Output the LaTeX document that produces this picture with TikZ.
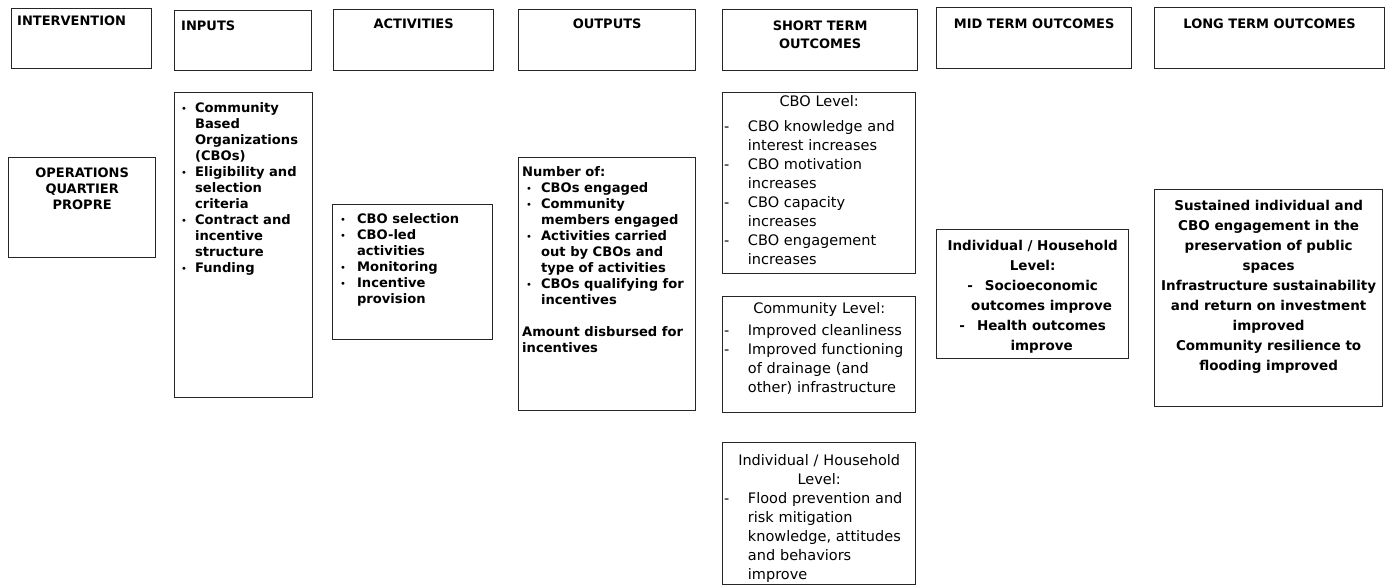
\documentclass[tikz,border=0pt]{standalone}
\usepackage{fontspec}
\setmainfont{DejaVu Sans}
\newcommand{\listdot}{\raisebox{0.6pt}{\fontsize{10}{16}\selectfont\mdseries •}}

\begin{document}
\begin{tikzpicture}[x=1pt,y=-1pt,
  box/.style={draw=black!85,line width=1.3pt,anchor=north west,inner sep=0pt},
  head/.style={font=\fontsize{13}{18}\selectfont\bfseries,inner sep=0pt,align=center},
  lst/.style={font=\fontsize{13.1}{16}\selectfont\bfseries,inner sep=0pt,anchor=north west},
  st/.style={font=\fontsize{14.5}{19}\selectfont,inner sep=0pt,anchor=north west,text width=190pt},
  bold/.style={font=\fontsize{13.5}{20}\selectfont\bfseries,inner sep=0pt,anchor=north,align=center}]
  \useasboundingbox (0,0) rectangle (1390,585);

  % header row
  \node[box,minimum width=140,minimum height=60] (hInterv) at (11,8) {};
  \node[box,minimum width=137,minimum height=60] (hInputs) at (174,10) {};
  \node[box,minimum width=160,minimum height=61] (hActiv) at (333,9) {};
  \node[box,minimum width=177,minimum height=61] (hOutputs) at (518,9) {};
  \node[box,minimum width=195,minimum height=61] (hShort) at (722,9) {};
  \node[box,minimum width=195,minimum height=61] (hMid) at (936,7) {};
  \node[box,minimum width=230,minimum height=61] (hLong) at (1154,7) {};

  \node[head,anchor=north west] (tInterv) at ([xshift=6,yshift=-7.5]hInterv.north west) {INTERVENTION};
  \node[head,anchor=north west] (tInputs) at ([xshift=7,yshift=-10.3]hInputs.north west) {INPUTS};
  \node[head,anchor=north] (tActiv) at ([yshift=-9.3]hActiv.north) {ACTIVITIES};
  \node[head,anchor=north] (tOutputs) at ([yshift=-9.3]hOutputs.north) {OUTPUTS};
  \node[head,anchor=north] (tShort) at ([yshift=-11.3]hShort.north) {SHORT TERM\\OUTCOMES};
  \node[head,anchor=north] (tMid) at ([yshift=-11.3]hMid.north) {MID TERM OUTCOMES};
  \node[head,anchor=north] (tLong) at ([yshift=-11.3]hLong.north) {LONG TERM OUTCOMES};

  % intervention and inputs
  \node[box,minimum width=147,minimum height=100] (bOper) at (8,157) {};
  \node[head,anchor=north,font=\fontsize{13}{16}\selectfont\bfseries] (tOper) at ([yshift=-10.3]bOper.north)
    {OPERATIONS\\QUARTIER\\PROPRE};

  \node[box,minimum width=138,minimum height=305] (bInputs) at (174,92) {};
  \node[lst] (lInputs) at ([xshift=7,yshift=-9.3]bInputs.north west) {%
    \begin{tabular}{@{}l@{\hspace{8pt}}l@{}}
      \listdot & Community\\ & Based\\ & Organizations\\ & (CBOs)\\
      \listdot & Eligibility and\\ & selection\\ & criteria\\
      \listdot & Contract and\\ & incentive\\ & structure\\
      \listdot & Funding
    \end{tabular}};

  % activities and outputs
  \node[box,minimum width=160,minimum height=135] (bActiv) at (332,204) {};
  \node[lst] (lActiv) at ([xshift=8,yshift=-8.3]bActiv.north west) {%
    \begin{tabular}{@{}l@{\hspace{11pt}}l@{}}
      \listdot & CBO selection\\ \listdot & CBO-led\\ & activities\\
      \listdot & Monitoring\\ \listdot & Incentive\\ & provision
    \end{tabular}};

  \node[box,minimum width=177,minimum height=253] (bOutputs) at (518,157) {};
  \node[lst] (lOutputs) at ([xshift=4,yshift=-8.3]bOutputs.north west) {%
    \begin{tabular}{@{}l@{\hspace{9pt}}l@{}}
      \multicolumn{2}{@{}l@{}}{Number of:}\\
      \hspace*{4pt}\listdot & CBOs engaged\\
      \hspace*{4pt}\listdot & Community\\ & members engaged\\
      \hspace*{4pt}\listdot & Activities carried\\ & out by CBOs and\\ & type of activities\\
      \hspace*{4pt}\listdot & CBOs qualifying for\\ & incentives\\[16pt]
      \multicolumn{2}{@{}l@{}}{Amount disbursed for}\\
      \multicolumn{2}{@{}l@{}}{incentives}
    \end{tabular}};

  % short term outcomes
  \node[box,minimum width=193,minimum height=181] (sCbo) at (722,92) {};
  \node[st] (tCbo) at ([xshift=2,yshift=-3]sCbo.north west) {%
    {\centering CBO Level:\par}\vspace{6pt}%
    \begin{tabular}[t]{@{}l@{\hspace{18.5pt}}l@{}}
      - & CBO knowledge and\\ & interest increases\\
      - & CBO motivation\\ & increases\\
      - & CBO capacity\\ & increases\\
      - & CBO engagement\\ & increases
    \end{tabular}};

  \node[box,minimum width=193,minimum height=116] (sComm) at (722,296) {};
  \node[st] (tComm) at ([xshift=2,yshift=-6.7]sComm.north west) {%
    {\centering Community Level:\par}\vspace{3pt}%
    \begin{tabular}[t]{@{}l@{\hspace{18.5pt}}l@{}}
      - & Improved cleanliness\\
      - & Improved functioning\\ & of drainage (and\\ & other) infrastructure
    \end{tabular}};

  \node[box,minimum width=193,minimum height=142] (sIndiv) at (722,442) {};
  \node[st] (tIndiv) at ([xshift=2,yshift=-12.7]sIndiv.north west) {%
    {\centering Individual / Household\\Level:\par}%
    \begin{tabular}[t]{@{}l@{\hspace{18.5pt}}l@{}}
      - & Flood prevention and\\ & risk mitigation\\ & knowledge, attitudes\\
      & and behaviors\\ & improve
    \end{tabular}};

  % mid and long term outcomes
  \node[box,minimum width=192,minimum height=129] (bMid) at (936,229) {};
  \node[bold] (tMidB) at ([yshift=-10.6]bMid.north) {%
    Individual / Household\\Level:\\
    -\hspace*{12pt}Socioeconomic\\\hspace*{18pt}outcomes improve\\
    -\hspace*{12pt}Health outcomes\\\hspace*{18pt}improve};

  \node[box,minimum width=228,minimum height=217] (bLong) at (1154,189) {};
  \node[bold] (tLongB) at ([yshift=-10.6]bLong.north) {%
    Sustained individual and\\CBO engagement in the\\preservation of public\\spaces\\
    Infrastructure sustainability\\and return on investment\\improved\\
    Community resilience to\\flooding improved};
\end{tikzpicture}
\end{document}
